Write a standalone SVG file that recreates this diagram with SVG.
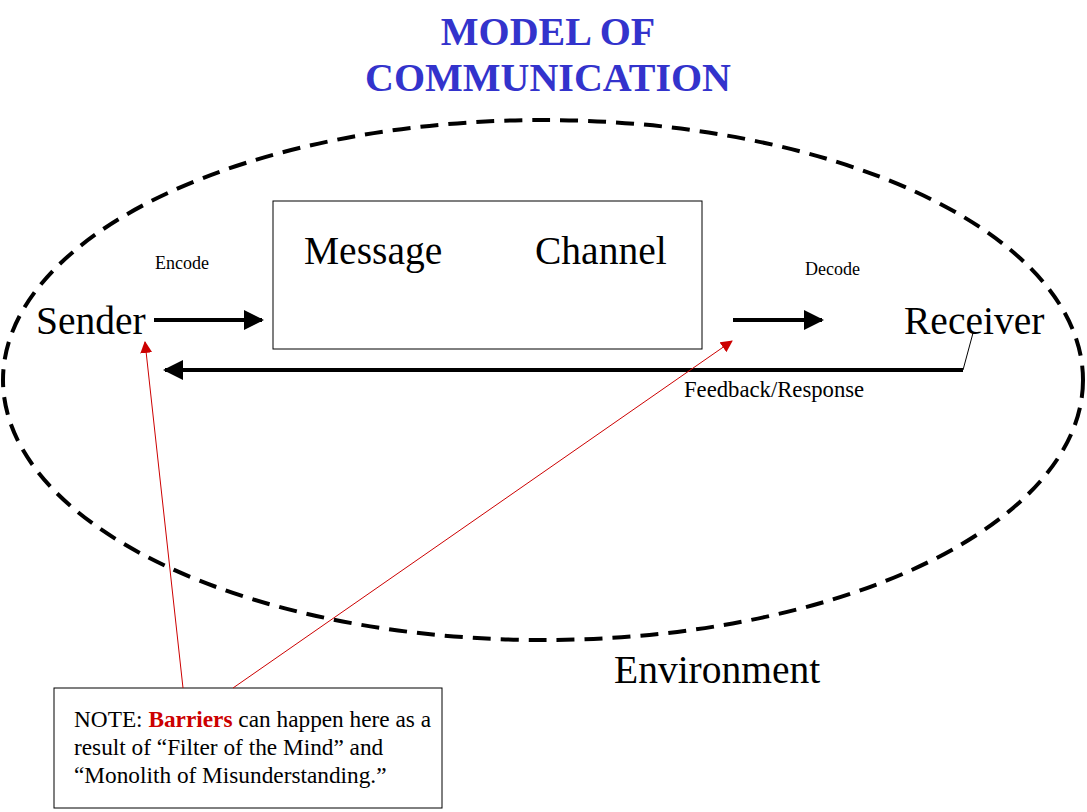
<svg xmlns="http://www.w3.org/2000/svg" width="1087" height="812" viewBox="0 0 1087 812">
<style>
text{font-family:"Liberation Serif",serif;fill:#000}
.t{fill:#3333cc;font-weight:bold;font-size:40px}
.big{font-size:39.5px}
.sm{font-size:18px}
.med{font-size:23.3px}
.fb{font-size:22.7px}
.k{stroke:#000;stroke-width:4;fill:none}
.r{stroke:#cc0000;stroke-width:1;fill:none}
</style>
<defs>
<marker id="ab" markerWidth="5" markerHeight="5" refX="4.5" refY="2.5" orient="auto" markerUnits="strokeWidth"><path d="M0,0L5,2.5L0,5Z" fill="#000"/></marker>
<marker id="ar" markerWidth="12" markerHeight="12" refX="11" refY="6" orient="auto" markerUnits="userSpaceOnUse"><path d="M0,0L12,6L0,12Z" fill="#cc0000"/></marker>
</defs>
<rect width="1087" height="812" fill="#fff"/>
<text class="t" x="548" y="45" text-anchor="middle">MODEL OF</text>
<text class="t" x="548" y="91" text-anchor="middle">COMMUNICATION</text>
<ellipse cx="543" cy="380" rx="540" ry="260" fill="none" stroke="#000" stroke-width="4" stroke-dasharray="18,10"/>
<g id="sender"><text class="big" x="36" y="334">Sender</text></g>
<g id="box"><rect x="273" y="201" width="429" height="148" fill="#fff" stroke="#000" stroke-width="1"/>
<text class="big" x="304" y="264">Message</text><text class="big" x="535" y="264">Channel</text></g>
<g id="receiver"><text class="big" x="904" y="334">Receiver</text></g>
<g id="env"><text class="big" x="614" y="683">Environment</text></g>
<g id="note"><rect x="54" y="688" width="388" height="120" fill="#fff" stroke="#000" stroke-width="1"/>
<text class="med" x="74" y="727">NOTE: <tspan fill="#cc0000" font-weight="bold">Barriers</tspan> can happen here as a</text>
<text class="med" x="74" y="755">result of “Filter of the Mind” and</text>
<text class="med" x="74" y="783">“Monolith of Misunderstanding.”</text></g>
<g id="connectors">
<line class="k" x1="154" y1="320" x2="262" y2="320" marker-end="url(#ab)"/>
<line class="k" x1="733" y1="320" x2="822" y2="320" marker-end="url(#ab)"/>
<line class="k" x1="963" y1="370" x2="165" y2="370" marker-end="url(#ab)"/>
<line x1="963" y1="370" x2="973" y2="333" stroke="#000" stroke-width="1"/>
<line class="r" x1="183" y1="688" x2="145" y2="342" marker-end="url(#ar)"/>
<line class="r" x1="233" y1="688" x2="732" y2="341" marker-end="url(#ar)"/>
<text class="sm" x="155" y="269">Encode</text>
<text class="sm" x="805" y="275">Decode</text>
<text class="fb" x="684" y="397">Feedback/Response</text>
</g>
</svg>
